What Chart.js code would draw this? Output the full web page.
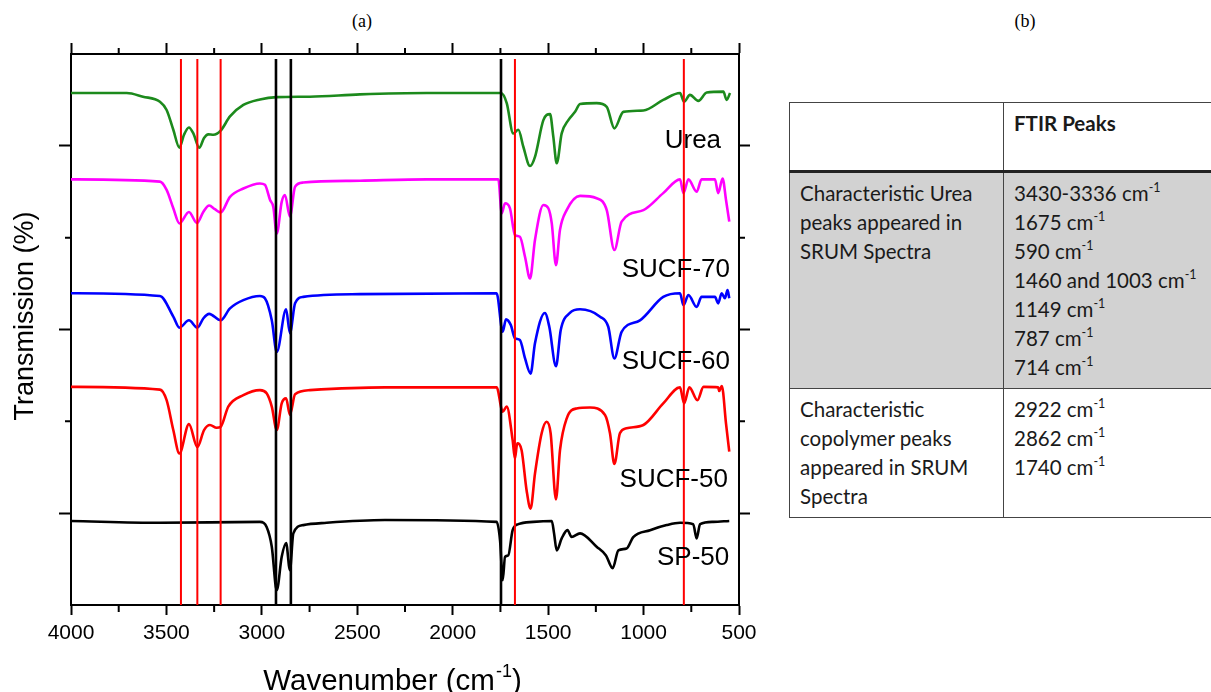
<!DOCTYPE html>
<html>
<head>
<meta charset="utf-8">
<title>FTIR spectra</title>
<script src="https://cdn.jsdelivr.net/npm/chart.js@4.4.0/dist/chart.umd.min.js"></script>
<style>
  html, body { margin: 0; padding: 0; background: #fff; }
  body { width: 1211px; height: 692px; position: relative; overflow: hidden; }
  #chartBox { position: absolute; left: 0; top: 0; width: 770px; height: 692px; }
  .panel { position: absolute; top: 11px; width: 40px; text-align: center;
           font-family: "Liberation Serif", "Times New Roman", serif; font-size: 18px; color: #000; }
  #panelA { left: 342px; }
  #panelB { left: 1005px; }
  #peaks { position: absolute; left: 789px; top: 102px; width: 450px; border-collapse: collapse;
           font-family: Lato, "Open Sans", sans-serif; font-size: 20.5px; line-height: 29px; color: #1a1a1a; }
  #peaks td { border: 1px solid #444; vertical-align: top; padding: 6px 10px; }
  #peaks td:first-child { width: 193px; }
  #peaks tr.head td { height: 55px; border-bottom: 3px solid #222; font-weight: bold; }
  #peaks tr.urea td { background: #d2d2d2; }
  #peaks sup { font-size: 12.5px; line-height: 0; position: relative; top: -1px; }
</style>
</head>
<body>
<div class="panel" id="panelA">(a)</div>
<div class="panel" id="panelB">(b)</div>
<div id="chartBox"><canvas id="ftirChart"></canvas></div>
<table id="peaks"></table>

<script>
// spectra (wavenumber, transmission offset units)
const ureaX = [4000,3708,3623,3534,3499,3464,3432,3408,3382,3359,3328,3303,3281,3254,3216,3167,3097,3010,2922,2748,2486,2136,1770,1747,1717,1683,1656,1630,1595,1569,1525,1490,1473,1455,1429,1394,1359,1333,1246,1193,1153,1106,1001,897,809,788,757,713,669,582,565,547];
const ureaY = [91.5,91.5,90.7,89.6,87.8,83.5,79.6,82.4,84.0,82.7,79.6,81.7,82.5,82.4,83.3,86.4,88.9,90.1,90.6,90.7,91.2,91.5,91.5,91.5,89.3,82.7,83.5,79.8,75.6,77.6,85.6,86.9,82.0,76.2,82.7,85.6,87.4,89.1,89.3,88.5,83.8,87.4,87.7,90.0,91.5,89.6,91.1,89.8,91.6,91.8,90.0,91.5];

const sucf70X = [4000,3534,3499,3464,3432,3382,3340,3307,3276,3246,3216,3167,3097,3010,2984,2957,2940,2922,2896,2879,2853,2826,2783,2486,2136,1778,1761,1743,1726,1700,1674,1648,1621,1595,1569,1525,1499,1481,1459,1438,1403,1333,1246,1193,1153,1115,1001,897,809,791,765,722,696,626,609,586,568,551];
const sucf70Y = [72.7,72.2,70.4,66.4,63.1,65.6,63.2,65.6,67.0,66.2,65.5,68.9,70.7,71.8,71.5,68.2,66.7,60.9,67.8,69.3,64.6,71.1,72.0,72.4,72.7,72.7,72.7,65.3,67.5,66.4,60.6,60.2,55.8,51.1,59.5,67.1,66.4,63.1,54.0,61.7,66.0,69.1,68.6,66.0,57.3,63.5,66.0,69.7,72.7,69.7,72.7,70.0,72.7,72.7,69.7,72.9,68.2,63.5];

const sucf60X = [4000,3534,3464,3432,3382,3338,3307,3276,3216,3167,3097,3010,2984,2948,2922,2873,2853,2826,2783,2486,1770,1738,1721,1696,1674,1648,1621,1592,1569,1517,1494,1459,1434,1386,1333,1228,1185,1153,1115,1019,897,809,791,765,722,696,626,609,591,574,560,551];
const sucf60Y = [47.9,47.3,42.8,40.4,42.0,40.4,42.4,43.4,42.0,44.6,46.4,47.3,46.8,42.0,35.1,44.4,39.2,45.7,47.1,47.7,47.9,39.5,42.2,41.0,38.1,37.7,33.7,30.4,37.0,43.6,40.6,32.0,39.9,43.6,44.4,42.8,40.6,33.7,39.5,42.0,47.1,47.9,45.3,47.5,44.9,47.1,47.1,45.7,47.9,46.8,48.6,46.8];

const sucf50X = [4000,3534,3499,3464,3432,3382,3338,3303,3272,3237,3216,3176,3097,3010,2975,2948,2922,2896,2873,2853,2826,2748,2355,1770,1738,1717,1686,1674,1662,1639,1613,1592,1569,1534,1508,1487,1459,1438,1403,1351,1281,1202,1176,1153,1124,1089,1001,897,809,788,760,718,686,609,604,590,568,551];
const sucf50Y = [27.5,26.9,24.6,18.1,13.0,19.4,14.4,18.1,19.2,18.6,18.8,23.2,25.7,26.8,26.1,23.2,18.1,23.9,25.0,21.4,25.9,26.8,27.4,27.4,22.1,23.2,15.9,11.9,15.2,13.7,5.0,1.0,8.6,17.4,19.9,17.4,3.0,13.7,20.6,22.8,23.0,21.4,17.4,10.7,17.4,18.5,19.2,23.9,27.4,23.9,27.4,24.6,27.5,27.4,26.6,27.7,19.5,13.4];

const sp50X = [4000,3534,3010,2975,2948,2922,2896,2873,2853,2835,2783,2660,2355,1770,1752,1738,1726,1709,1686,1656,1578,1481,1469,1455,1429,1399,1377,1333,1246,1197,1162,1132,1089,1054,966,879,809,740,722,704,635,551];
const sp50Y = [-1.7,-2.1,-1.9,-3.0,-7.3,-16.8,-9.5,-6.5,-12.4,-4.4,-2.6,-2.1,-1.5,-1.9,-5.9,-14.6,-9.5,-9.2,-3.7,-2.4,-1.9,-1.7,-4.4,-8.1,-5.5,-3.7,-5.2,-4.4,-7.3,-9.2,-12.0,-8.1,-7.7,-5.2,-3.7,-2.6,-2.1,-2.4,-5.5,-2.4,-1.9,-1.7];

const seriesNames = ['Urea', 'SUCF-70', 'SUCF-60', 'SUCF-50', 'SP-50'];

// marker lines
const ureaMarks = [3424, 3338, 3216, 1674, 789];
const copolymerMarks = [2926, 2848, 1747];
const markTop = 98.9;

// axis ticks
const xMajor = [4000, 3500, 3000, 2500, 2000, 1500, 1000, 500];
const xMinor = [3750, 3250, 2750, 2250, 1750, 1250, 750];
const yMajor = [0, 40, 80];
const yMinor = [20, 60];

// table (b)
const ureaPeaks = ['3430-3336', '1675', '590', '1460 and 1003', '1149', '787', '714'];
const copolymerPeaks = ['2922', '2862', '1740'];

const seriesStyle = [
  { color: '#1c8a1c', x: ureaX, y: ureaY },
  { color: '#ff00ff', x: sucf70X, y: sucf70Y },
  { color: '#0000ff', x: sucf60X, y: sucf60Y },
  { color: '#ff0000', x: sucf50X, y: sucf50Y },
  { color: '#000000', x: sp50X, y: sp50Y }
];
// label anchors: right edge wavenumber, baseline value
const labelPlace = [
  { x: 594, y: 79.5 }, { x: 547, y: 51.5 }, { x: 547, y: 31.3 }, { x: 558, y: 5.7 }, { x: 551, y: -11.3 }
];

function buildTable() {
  const t = document.getElementById('peaks');
  const cm = ' cm<sup>-1</sup>';
  t.innerHTML =
    '<tr class="head"><td></td><td>FTIR Peaks</td></tr>' +
    '<tr class="urea"><td>Characteristic Urea<br>peaks appeared in<br>SRUM Spectra</td><td>' +
      ureaPeaks.map(p => p + cm).join('<br>') + '</td></tr>' +
    '<tr><td>Characteristic<br>copolymer peaks<br>appeared in SRUM<br>Spectra</td><td>' +
      copolymerPeaks.map(p => p + cm).join('<br>') + '</td></tr>';
}
buildTable();

const sansFont = '"Liberation Sans", Arial, sans-serif';

const markDatasets = [];
ureaMarks.forEach(v => markDatasets.push({
  data: [{ x: v, y: markTop }, { x: v, y: -20 }], borderColor: '#ff0000', borderWidth: 2, tension: 0
}));
copolymerMarks.forEach(v => markDatasets.push({
  data: [{ x: v, y: markTop }, { x: v, y: -20 }], borderColor: '#000000', borderWidth: 2.6, tension: 0
}));

const spectraDatasets = seriesStyle.map((s, i) => ({
  label: seriesNames[i],
  data: s.x.map((xv, j) => ({ x: xv, y: s.y[j] })),
  borderColor: s.color,
  borderWidth: 2.6,
  cubicInterpolationMode: 'monotone'
}));

const extras = {
  id: 'extras',
  afterDraw(chart) {
    const ctx = chart.ctx;
    const { x, xTop, y, yRight } = chart.scales;
    ctx.save();
    ctx.strokeStyle = '#000';
    ctx.lineWidth = 2;
    ctx.beginPath();
    xMinor.forEach(v => {
      const px = x.getPixelForValue(v);
      ctx.moveTo(px, x.top); ctx.lineTo(px, x.top + 7);
      ctx.moveTo(px, xTop.bottom); ctx.lineTo(px, xTop.bottom - 6);
    });
    yMinor.forEach(v => {
      const py = y.getPixelForValue(v);
      ctx.moveTo(y.right, py); ctx.lineTo(y.right - 6, py);
      ctx.moveTo(yRight.left, py); ctx.lineTo(yRight.left + 6, py);
    });
    ctx.stroke();

    // series names
    ctx.fillStyle = '#000';
    ctx.font = '26px ' + sansFont;
    ctx.textAlign = 'right';
    ctx.textBaseline = 'alphabetic';
    seriesNames.forEach((name, i) => {
      ctx.fillText(name, x.getPixelForValue(labelPlace[i].x), y.getPixelForValue(labelPlace[i].y));
    });

    // y axis title
    ctx.save();
    ctx.translate(33, 316);
    ctx.rotate(-Math.PI / 2);
    ctx.textAlign = 'center';
    ctx.font = '27px ' + sansFont;
    ctx.fillText('Transmission (%)', 0, 0);
    ctx.restore();

    // x axis title with superscript
    const main = 'Wavenumber (cm';
    const sup = '-1';
    ctx.font = '29.5px ' + sansFont;
    const w1 = ctx.measureText(main).width;
    const w3 = ctx.measureText(')').width;
    ctx.font = '18px ' + sansFont;
    const w2 = ctx.measureText(sup).width;
    const cx = (chart.chartArea.left + chart.chartArea.right) / 2 - 13;
    const sx = cx - (w1 + w2 + w3) / 2;
    const base = 690;
    ctx.textAlign = 'left';
    ctx.font = '29.5px ' + sansFont;
    ctx.fillText(main, sx, base);
    ctx.font = '18px ' + sansFont;
    ctx.fillText(sup, sx + w1 + 1, base - 13);
    ctx.font = '29.5px ' + sansFont;
    ctx.fillText(')', sx + w1 + w2 + 1, base);
    ctx.restore();
  }
};

const tickGrid = len => ({ drawOnChartArea: false, tickLength: len, tickWidth: 2, tickColor: '#000' });
const axisBorder = { color: '#000', width: 2 };
const setTicks = list => scale => { scale.ticks = list.map(v => ({ value: v })); };

new Chart(document.getElementById('ftirChart'), {
  type: 'line',
  data: { datasets: markDatasets.concat(spectraDatasets) },
  plugins: [extras],
  options: {
    responsive: true,
    maintainAspectRatio: false,
    animation: false,
    layout: { padding: 0 },
    elements: { point: { radius: 0 } },
    plugins: { legend: { display: false }, tooltip: { enabled: false } },
    scales: {
      x: {
        type: 'linear', position: 'bottom', reverse: true, min: 500, max: 4000,
        afterBuildTicks: setTicks(xMajor),
        ticks: { color: '#000', font: { family: sansFont, size: 21 }, padding: 6, maxRotation: 0,
                 callback: v => String(v) },
        grid: tickGrid(10),
        border: axisBorder,
        afterFit: s => { s.height = 87; }
      },
      xTop: {
        type: 'linear', position: 'top', reverse: true, min: 500, max: 4000,
        afterBuildTicks: setTicks(xMajor),
        ticks: { display: false },
        grid: tickGrid(11),
        border: axisBorder,
        afterFit: s => { s.height = 54; }
      },
      y: {
        type: 'linear', position: 'left', min: -20, max: 100,
        afterBuildTicks: setTicks(yMajor),
        ticks: { display: false },
        grid: tickGrid(12),
        border: axisBorder,
        afterFit: s => { s.width = 71; }
      },
      yRight: {
        type: 'linear', position: 'right', min: -20, max: 100,
        afterBuildTicks: setTicks(yMajor),
        ticks: { display: false },
        grid: tickGrid(11),
        border: axisBorder,
        afterFit: s => { s.width = 31; }
      }
    }
  }
});
</script>
</body>
</html>
